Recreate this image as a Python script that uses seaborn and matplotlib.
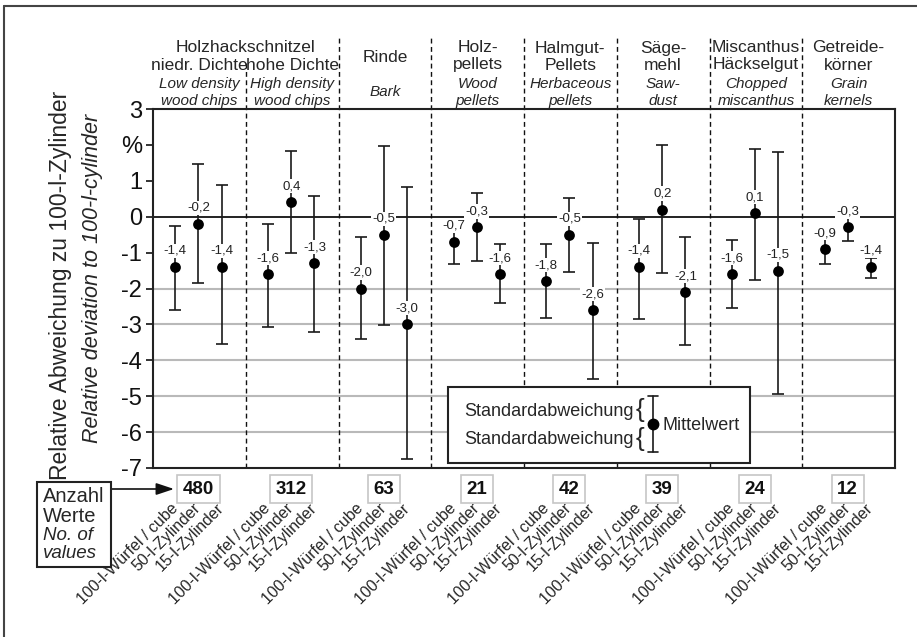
import numpy as np
import matplotlib
matplotlib.use("Agg")
import matplotlib.pyplot as plt
from matplotlib.lines import Line2D
from matplotlib.patches import Rectangle
import seaborn as sns

# ---------------- data ----------------
groups_de_1 = ["niedr. Dichte", "hohe Dichte", "Rinde", "Holz-", "Halmgut-", "Säge-", "Miscanthus", "Getreide-"]
groups_de_2 = ["", "", "", "pellets", "Pellets", "mehl", "Häckselgut", "körner"]
groups_en_1 = ["Low density", "High density", "Bark", "Wood", "Herbaceous", "Saw-", "Chopped", "Grain"]
groups_en_2 = ["wood chips", "wood chips", "", "pellets", "pellets", "dust", "miscanthus", "kernels"]
top_header = "Holzhackschnitzel"
counts = [480, 312, 63, 21, 42, 39, 24, 12]
containers = ["100-l-Würfel / cube", "50-l-Zylinder", "15-l-Zylinder"]

means = [-1.4, -0.2, -1.4,
         -1.6, 0.4, -1.3,
         -2.0, -0.5, -3.0,
         -0.7, -0.3, -1.6,
         -1.8, -0.5, -2.6,
         -1.4, 0.2, -2.1,
         -1.6, 0.1, -1.5,
         -0.9, -0.3, -1.4]
upper = [-0.26, 1.48, 0.87,
         -0.19, 1.83, 0.57,
         -0.56, 1.97, 0.84,
         -0.17, 0.65, -0.75,
         -0.77, 0.53, -0.72,
         -0.06, 2.01, -0.56,
         -0.65, 1.89, 1.80,
         -0.49, 0.06, -1.16]
lower = [-2.61, -1.84, -3.54,
         -3.07, -1.00, -3.21,
         -3.40, -3.03, -6.76,
         -1.33, -1.24, -2.40,
         -2.83, -1.54, -4.53,
         -2.84, -1.56, -3.58,
         -2.53, -1.77, -4.93,
         -1.33, -0.68, -1.72]
ytick_vals = [3, 2, 1, 0, -1, -2, -3, -4, -5, -6, -7]
ytick_labels = ["3", "%", "1", "0", "-1", "-2", "-3", "-4", "-5", "-6", "-7"]

# ---------------- style ----------------
sns.set_theme(style="white")
plt.rcParams["font.family"] = ["Liberation Sans", "DejaVu Sans"]
plt.rcParams["axes.unicode_minus"] = False

W, H = 917, 637
def fx(x): return x / W
def fy(y): return 1 - y / H

fig = plt.figure(figsize=(W / 100, H / 100), dpi=100)
fig.patch.set_facecolor("white")
ax = fig.add_axes([fx(153), fy(468), (895 - 153) / W, (468 - 109) / H])
ax.set_facecolor("white")

ngroups = len(counts)
offsets = [-0.25, 0.0, 0.25]
centers = np.arange(ngroups) + 0.49
xpos = np.array([c + o for c in centers for o in offsets])
means_a = np.array(means)
upper_a = np.array(upper)
lower_a = np.array(lower)

ax.set_xlim(0, ngroups)
ax.set_ylim(-7, 3)

# gridlines and zero line
for gy in [-2, -3, -4, -5, -6]:
    ax.axhline(gy, color="#b9b9b9", lw=1.5, zorder=1)
ax.axhline(0, color="#111111", lw=1.3, zorder=2)

# dashed group separators (extend into the header area)
for b in range(1, ngroups):
    top = 4.35 if b == 1 else 5.03
    ax.add_line(Line2D([b, b], [-7, top], color="#111111", lw=1.0,
                       linestyle=(0, (3.5, 2.5)), clip_on=False, zorder=2))

# error bars + means
ax.errorbar(xpos, means_a, yerr=[means_a - lower_a, upper_a - means_a], fmt="none",
            ecolor="#1a1a1a", elinewidth=1.2, capsize=4, capthick=1.2, zorder=3)
sns.scatterplot(x=xpos, y=means_a, color="black", s=60, edgecolor="black",
                linewidth=0, ax=ax, zorder=4, legend=False)

# value labels
for x, m in zip(xpos, means):
    ax.annotate(f"{m:.1f}".replace(".", ","), (x, m), xytext=(0, 11.5),
                textcoords="offset points", ha="center", va="center",
                fontsize=9.5, color="#222222", zorder=5,
                bbox=dict(boxstyle="square,pad=0.08", fc="white", ec="none"))

# headers
def yv(ypx):
    return 3 + (109 - ypx) / 35.9

ax.text(1.0, yv(48), top_header, ha="center", va="center", fontsize=12.5, clip_on=False)
for i in range(ngroups):
    cx = i + 0.5
    if groups_de_2[i] == "" and groups_en_2[i] == "":
        ax.text(cx, yv(57), groups_de_1[i], ha="center", va="center", fontsize=12.5, clip_on=False)
        ax.text(cx, yv(92), groups_en_1[i], ha="center", va="center", fontsize=11, style="italic", clip_on=False)
        continue
    if groups_de_2[i] == "":
        ax.text(cx, yv(65), groups_de_1[i], ha="center", va="center", fontsize=12.5, clip_on=False)
    else:
        ax.text(cx, yv(48), groups_de_1[i], ha="center", va="center", fontsize=12.5, clip_on=False)
        ax.text(cx, yv(65), groups_de_2[i], ha="center", va="center", fontsize=12.5, clip_on=False)
    ax.text(cx, yv(84), groups_en_1[i], ha="center", va="center", fontsize=11, style="italic", clip_on=False)
    ax.text(cx, yv(101), groups_en_2[i], ha="center", va="center", fontsize=11, style="italic", clip_on=False)

# counts boxes
for c, n in zip(centers, counts):
    ax.text(c, yv(489), str(n), ha="center", va="center", fontsize=13.5, fontweight="bold",
            clip_on=False, color="#111111",
            bbox=dict(boxstyle="square,pad=0.3", fc="white", ec="#c6c6c6", lw=1.2))

# axes ticks
ax.set_yticks(ytick_vals)
ax.set_yticklabels(ytick_labels, fontsize=17)
ax.set_xticks(xpos)
ax.set_xticklabels(containers * ngroups, rotation=45, ha="right", va="center",
                   rotation_mode="anchor", fontsize=11.5)
ax.tick_params(axis="x", length=0, pad=27)
ax.tick_params(axis="y", length=5, width=1.2, direction="out", left=True, pad=3, colors="#111111")
for sp in ax.spines.values():
    sp.set_color("#222222")
    sp.set_linewidth(1.5)
ax.set_xlabel("")
ax.set_ylabel("")

# y axis titles
fig.text(fx(60), fy(285), "Relative Abweichung zu 100-l-Zylinder", rotation=90,
         ha="center", va="center", fontsize=16.5)
fig.text(fx(93), fy(278), "Relative deviation to 100-l-cylinder", rotation=90,
         ha="center", va="center", fontsize=15.5, style="italic")

# legend box
leg = Rectangle((fx(448), fy(463)), fx(750) - fx(448), fy(387) - fy(463),
                transform=fig.transFigure, fc="white", ec="#222222", lw=1.5, zorder=10)
fig.patches.append(leg)
fig.text(fx(634), fy(411), "Standardabweichung", ha="right", va="center", fontsize=13, zorder=11)
fig.text(fx(634), fy(440), "Standardabweichung", ha="right", va="center", fontsize=13, zorder=11)
fig.text(fx(640), fy(410), "{", ha="center", va="center", fontsize=19, zorder=11)
fig.text(fx(640), fy(439), "{", ha="center", va="center", fontsize=19, zorder=11)
fig.lines.append(Line2D([fx(653), fx(653)], [fy(396), fy(452)], transform=fig.transFigure,
                        color="#1a1a1a", lw=1.2, zorder=11))
for cy in (396, 452):
    fig.lines.append(Line2D([fx(648), fx(658)], [fy(cy), fy(cy)], transform=fig.transFigure,
                            color="#1a1a1a", lw=1.2, zorder=11))
fig.lines.append(Line2D([fx(653)], [fy(424)], transform=fig.transFigure, marker="o",
                        markersize=7.5, color="black", zorder=12))
fig.text(fx(662), fy(425), "Mittelwert", ha="left", va="center", fontsize=13, zorder=11)

# "Anzahl Werte" box and arrow
fig.patches.append(Rectangle((fx(37), fy(567)), fx(111) - fx(37), fy(482) - fy(567),
                             transform=fig.transFigure, fc="white", ec="#222222", lw=1.5, zorder=10))
fig.text(fx(43), fy(497), "Anzahl", ha="left", va="center", fontsize=14.5, zorder=11)
fig.text(fx(43), fy(516), "Werte", ha="left", va="center", fontsize=14.5, zorder=11)
fig.text(fx(43), fy(536), "No. of", ha="left", va="center", fontsize=13.5, style="italic", zorder=11)
fig.text(fx(43), fy(554), "values", ha="left", va="center", fontsize=13.5, style="italic", zorder=11)
ax.annotate("", xy=(fx(174), fy(489)), xytext=(fx(111), fy(489)),
            xycoords="figure fraction", textcoords="figure fraction",
            arrowprops=dict(arrowstyle="-|>,head_length=0.9,head_width=0.3",
                            color="#111111", lw=1.2, shrinkA=0, shrinkB=0),
            annotation_clip=False)

# partial figure frame
fig.lines.append(Line2D([fx(4), 1], [fy(6), fy(6)], transform=fig.transFigure, color="#444444", lw=1.5))
fig.lines.append(Line2D([fx(4), fx(4)], [fy(6), 0], transform=fig.transFigure, color="#444444", lw=1.5))

fig.savefig("out.png", dpi=100, facecolor="white")
